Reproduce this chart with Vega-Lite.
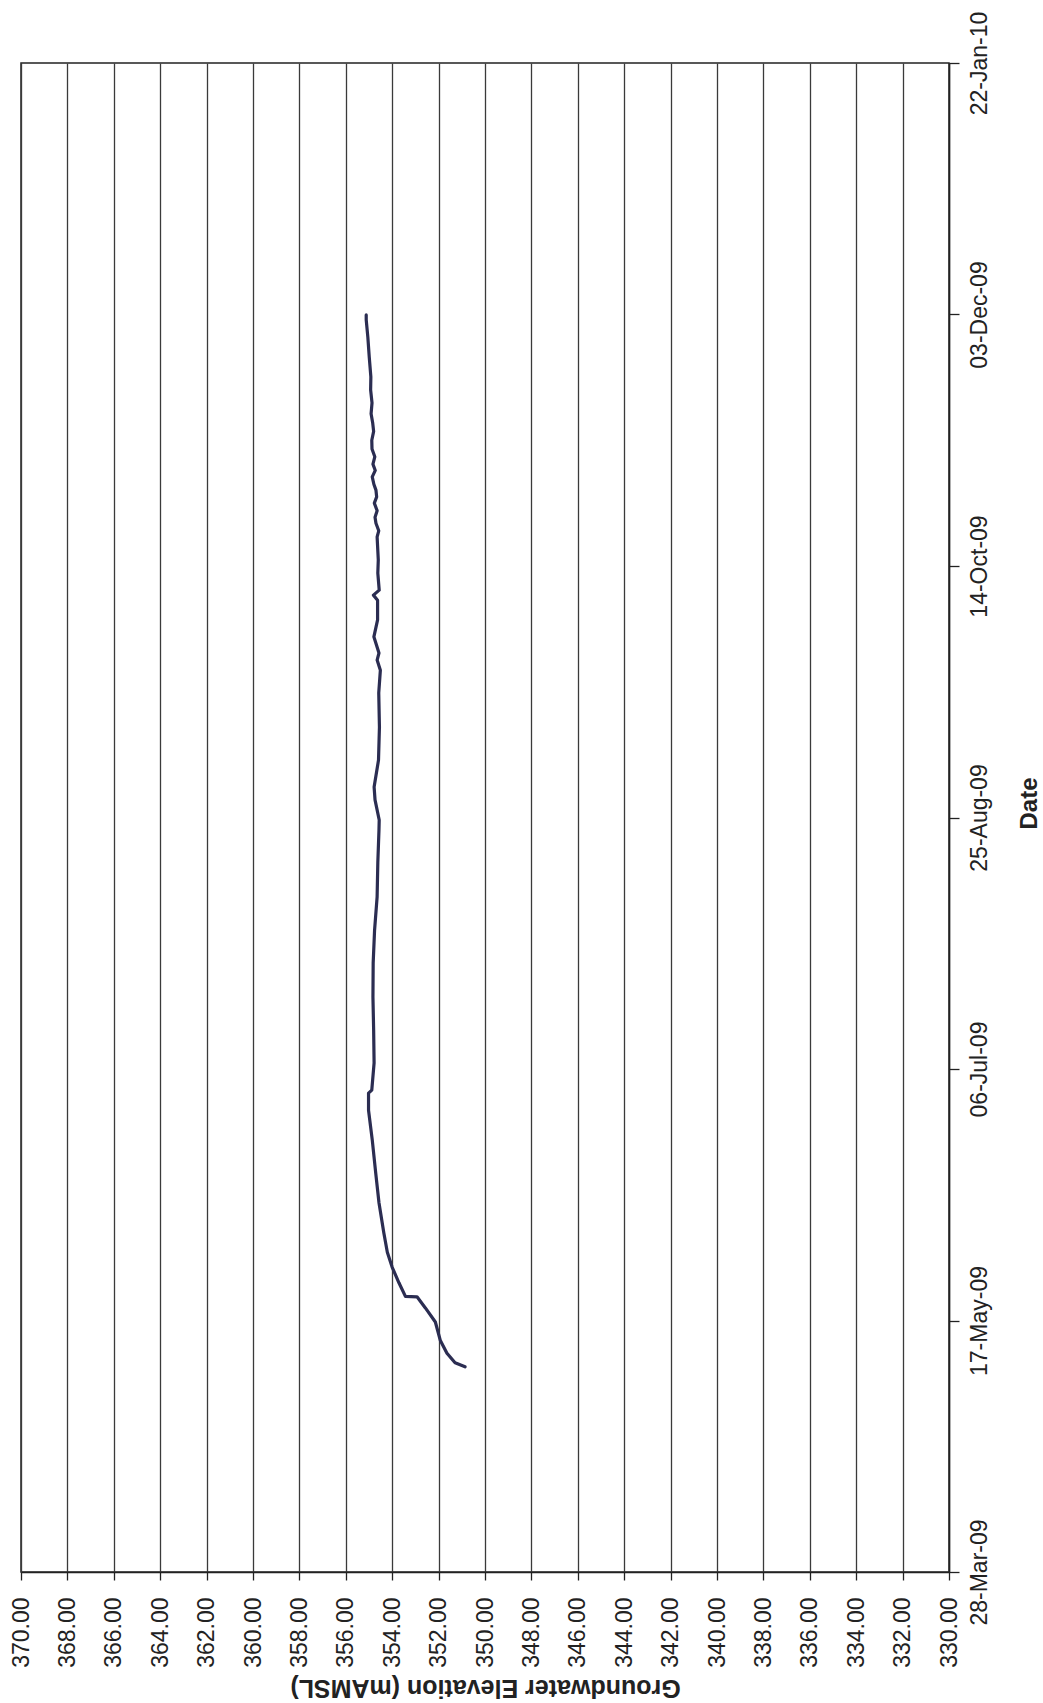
{
  "$schema": "https://vega.github.io/schema/vega-lite/v6.json",
  "width": 928,
  "height": 1509,
  "autosize": {"type": "none"},
  "padding": {"left": 21, "top": 63, "right": 94, "bottom": 131},
  "background": "white",
  "config": {
    "view": {"stroke": "#222", "strokeWidth": 1.5},
    "font": "Liberation Sans"
  },
  "data": {
    "values": [
      {"date": "2009-05-07T19:00", "elev": 350.86},
      {"date": "2009-05-08T14:00", "elev": 351.29},
      {"date": "2009-05-10T12:00", "elev": 351.64},
      {"date": "2009-05-13T02:00", "elev": 351.93},
      {"date": "2009-05-16T17:00", "elev": 352.14},
      {"date": "2009-05-19T12:00", "elev": 352.57},
      {"date": "2009-05-21T17:00", "elev": 352.93},
      {"date": "2009-05-21T19:00", "elev": 353.43},
      {"date": "2009-05-24T12:00", "elev": 353.71},
      {"date": "2009-05-27T14:00", "elev": 354.00},
      {"date": "2009-05-30T14:00", "elev": 354.21},
      {"date": "2009-06-03T10:00", "elev": 354.36},
      {"date": "2009-06-09T10:00", "elev": 354.57},
      {"date": "2009-06-15T07:00", "elev": 354.71},
      {"date": "2009-06-21T22:00", "elev": 354.86},
      {"date": "2009-06-27T19:00", "elev": 355.02},
      {"date": "2009-07-01T05:00", "elev": 355.02},
      {"date": "2009-07-01T19:00", "elev": 354.88},
      {"date": "2009-07-07T05:00", "elev": 354.78},
      {"date": "2009-07-13T19:00", "elev": 354.80},
      {"date": "2009-07-20T07:00", "elev": 354.83},
      {"date": "2009-07-27T02:00", "elev": 354.82},
      {"date": "2009-08-02T14:00", "elev": 354.76},
      {"date": "2009-08-09T05:00", "elev": 354.65},
      {"date": "2009-08-16T00:00", "elev": 354.62},
      {"date": "2009-08-22T12:00", "elev": 354.57},
      {"date": "2009-08-24T12:00", "elev": 354.56},
      {"date": "2009-08-28T12:00", "elev": 354.74},
      {"date": "2009-08-31T02:00", "elev": 354.78},
      {"date": "2009-09-05T10:00", "elev": 354.59},
      {"date": "2009-09-12T00:00", "elev": 354.55},
      {"date": "2009-09-18T19:00", "elev": 354.58},
      {"date": "2009-09-23T07:00", "elev": 354.51},
      {"date": "2009-09-25T07:00", "elev": 354.65},
      {"date": "2009-09-26T17:00", "elev": 354.57},
      {"date": "2009-09-29T22:00", "elev": 354.79},
      {"date": "2009-10-03T07:00", "elev": 354.63},
      {"date": "2009-10-07T05:00", "elev": 354.63},
      {"date": "2009-10-08T05:00", "elev": 354.81},
      {"date": "2009-10-09T05:00", "elev": 354.56},
      {"date": "2009-10-12T14:00", "elev": 354.62},
      {"date": "2009-10-15T05:00", "elev": 354.60},
      {"date": "2009-10-19T19:00", "elev": 354.65},
      {"date": "2009-10-21T00:00", "elev": 354.58},
      {"date": "2009-10-22T12:00", "elev": 354.70},
      {"date": "2009-10-23T17:00", "elev": 354.74},
      {"date": "2009-10-25T00:00", "elev": 354.65},
      {"date": "2009-10-26T12:00", "elev": 354.77},
      {"date": "2009-10-27T18:00", "elev": 354.67},
      {"date": "2009-10-29T02:00", "elev": 354.70},
      {"date": "2009-10-30T06:00", "elev": 354.79},
      {"date": "2009-10-31T17:00", "elev": 354.86},
      {"date": "2009-11-02T00:00", "elev": 354.73},
      {"date": "2009-11-03T06:00", "elev": 354.83},
      {"date": "2009-11-04T17:00", "elev": 354.75},
      {"date": "2009-11-06T06:00", "elev": 354.87},
      {"date": "2009-11-08T00:00", "elev": 354.88},
      {"date": "2009-11-09T18:00", "elev": 354.80},
      {"date": "2009-11-11T10:00", "elev": 354.84},
      {"date": "2009-11-13T06:00", "elev": 354.91},
      {"date": "2009-11-15T10:00", "elev": 354.87},
      {"date": "2009-11-18T00:00", "elev": 354.93},
      {"date": "2009-11-20T14:00", "elev": 354.92},
      {"date": "2009-11-24T14:00", "elev": 354.99},
      {"date": "2009-11-28T12:00", "elev": 355.05},
      {"date": "2009-12-01T22:00", "elev": 355.12},
      {"date": "2009-12-02T22:00", "elev": 355.12}
    ]
  },
  "mark": {"type": "line", "color": "#2b2d52", "strokeWidth": 3.2, "strokeJoin": "round", "strokeCap": "round"},
  "encoding": {
    "x": {
      "field": "elev",
      "type": "quantitative",
      "scale": {"domain": [330, 370], "reverse": true, "nice": false, "zero": false},
      "axis": {
        "values": [330, 332, 334, 336, 338, 340, 342, 344, 346, 348, 350, 352, 354, 356, 358, 360, 362, 364, 366, 368, 370],
        "format": ".2f",
        "grid": true,
        "gridColor": "#3a3a3a",
        "gridWidth": 1.3,
        "gridOpacity": 1,
        "domainColor": "#222",
        "domainWidth": 1.5,
        "tickColor": "#222",
        "tickSize": 8,
        "tickWidth": 1.3,
        "labelAngle": 270,
        "labelAlign": "right",
        "labelBaseline": "middle",
        "labelPadding": 17,
        "labelFontSize": 23,
        "labelColor": "#222",
        "labelFont": "Liberation Sans",
        "title": "Groundwater Elevation (mAMSL)",
        "titleFont": "Liberation Sans",
        "titleFontSize": 25,
        "titleFontWeight": "bold",
        "titleColor": "#222",
        "titleAngle": 180,
        "titleAlign": "center",
        "titleBaseline": "middle",
        "titleX": 464,
        "titleY": 115
      }
    },
    "y": {
      "field": "date",
      "type": "temporal",
      "scale": {
        "domain": [
          {"year": 2009, "month": 3, "date": 28},
          {"year": 2010, "month": 1, "date": 22}
        ],
        "nice": false
      },
      "axis": {
        "orient": "right",
        "values": [
          {"year": 2009, "month": 3, "date": 28},
          {"year": 2009, "month": 5, "date": 17},
          {"year": 2009, "month": 7, "date": 6},
          {"year": 2009, "month": 8, "date": 25},
          {"year": 2009, "month": 10, "date": 14},
          {"year": 2009, "month": 12, "date": 3},
          {"year": 2010, "month": 1, "date": 22}
        ],
        "format": "%d-%b-%y",
        "grid": false,
        "domainColor": "#222",
        "domainWidth": 1.5,
        "tickColor": "#222",
        "tickSize": 10,
        "tickWidth": 1.3,
        "labelAngle": 270,
        "labelAlign": "center",
        "labelBaseline": "top",
        "labelPadding": 9,
        "labelFontSize": 23,
        "labelColor": "#222",
        "labelFont": "Liberation Sans",
        "labelOverlap": false,
        "labelFlush": false,
        "title": "Date",
        "titleFont": "Liberation Sans",
        "titleFontSize": 24,
        "titleFontWeight": "bold",
        "titleColor": "#222",
        "titleAngle": 270,
        "titleAlign": "center",
        "titleBaseline": "middle",
        "titleX": 80,
        "titleY": 740
      }
    }
  }
}
